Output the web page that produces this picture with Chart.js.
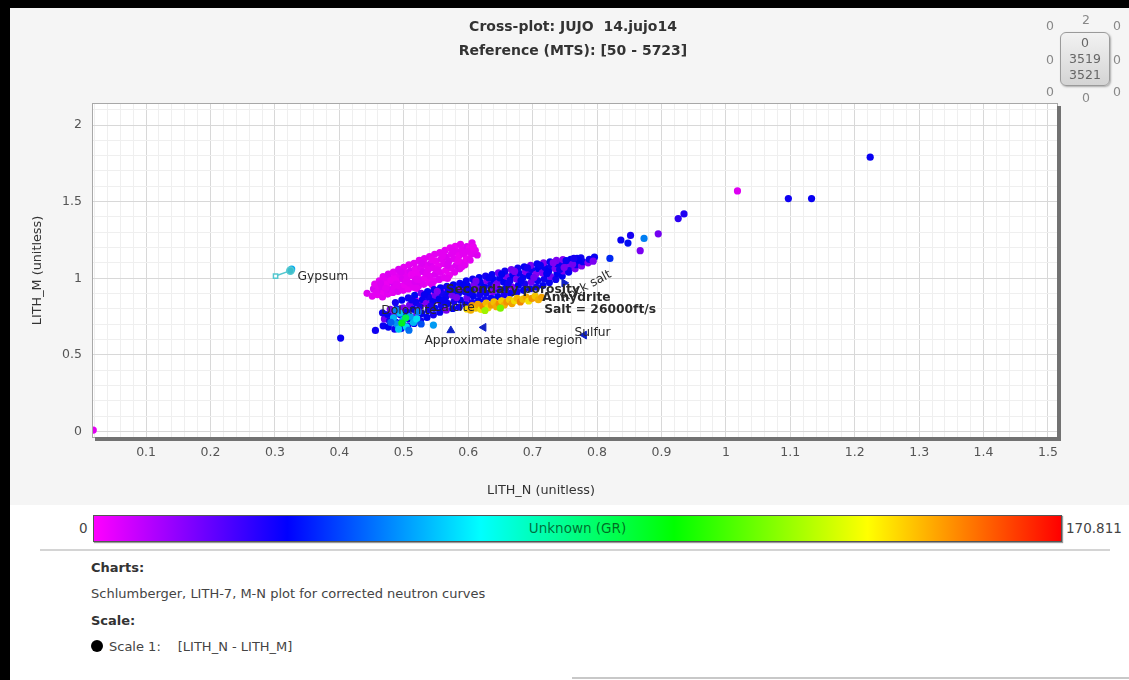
<!DOCTYPE html>
<html>
<head>
<meta charset="utf-8">
<title>Cross-plot JUJO 14</title>
<script src="https://cdn.jsdelivr.net/npm/chart.js@4.4.1/dist/chart.umd.min.js"></script>
<style>
  html, body { margin: 0; padding: 0; }
  body {
    width: 1129px; height: 680px; position: relative; overflow: hidden;
    background: #fff; font-family: "DejaVu Sans", Verdana, sans-serif; color: #333;
  }
  #panel { position: absolute; left: 0; top: 0; width: 1129px; height: 505px; background: #f5f5f5; }
  #topBar { position: absolute; left: 0; top: 0; width: 1129px; height: 8px; background: #000; }
  #leftBar { position: absolute; left: 0; top: 0; width: 10px; height: 680px; background: #000; }
  #plot { position: absolute; left: 0; top: 0; }
  .title { position: absolute; left: 0; width: 1146px; text-align: center; font-weight: bold; font-size: 14px; line-height: 16px; color: #333; }
  #xTitle { position: absolute; left: 0; width: 1082px; top: 482px; text-align: center; font-size: 12.8px; line-height: 16px; color: #333; }
  .num { position: absolute; font-size: 12.5px; color: #888; transform: translate(-50%, -50%); }
  #navBox {
    position: absolute; left: 1060px; top: 32px; width: 50px; height: 54px; box-sizing: border-box;
    border: 1px solid #9a9a9a; border-radius: 6px; background: linear-gradient(#f2f2f2, #d4d4d4);
    box-shadow: 1px 1px 2px #aaa; text-align: center; font-size: 12.5px; line-height: 16px; color: #666; padding-top: 2px;
  }
  #cbar {
    position: absolute; left: 93px; top: 515px; width: 969px; height: 27px; box-sizing: border-box;
    border: 1px solid #555; box-shadow: 1px 1px 1px #999;
    text-align: center; font-size: 13.5px; line-height: 25px; color: rgba(0, 60, 20, 0.75);
  }
  .cbLabel { position: absolute; top: 520px; font-size: 13.5px; line-height: 16px; color: #444; }
  #sep { position: absolute; left: 40px; top: 549px; width: 1070px; height: 2px; background: #d4d4d4; }
  #bottomLine { position: absolute; left: 572px; top: 677px; width: 557px; height: 2px; background: #c8c8c8; }
  .head { position: absolute; left: 91px; font-weight: bold; font-size: 13px; line-height: 16px; color: #333; }
  .body { position: absolute; left: 91px; font-size: 13px; line-height: 16px; color: #444; }
  #dot { display: inline-block; width: 12px; height: 12px; border-radius: 50%; background: #000; vertical-align: -1px; margin-right: 6px; }
</style>
</head>
<body>
<div id="panel"></div>
<canvas id="plot" width="1129" height="510"></canvas>
<div id="topBar"></div>
<div id="leftBar"></div>

<div class="title" style="top:18px">Cross-plot: JUJO&nbsp; 14.jujo14</div>
<div class="title" style="top:42px">Reference (MTS): [50 - 5723]</div>
<div id="xTitle">LITH_N (unitless)</div>

<span class="num" style="left:1086px;top:19px">2</span>
<span class="num" style="left:1050px;top:25px">0</span>
<span class="num" style="left:1117px;top:25px">0</span>
<span class="num" style="left:1050px;top:59px">0</span>
<span class="num" style="left:1117px;top:59px">0</span>
<span class="num" style="left:1050px;top:91px">0</span>
<span class="num" style="left:1086px;top:97px">0</span>
<span class="num" style="left:1117px;top:91px">0</span>
<div id="navBox">0<br>3519<br>3521</div>

<div id="cbar"></div>
<span class="cbLabel" id="cbMin" style="left:79px"></span>
<span class="cbLabel" id="cbMax" style="left:1066px"></span>
<div id="sep"></div>

<div class="head" style="top:560px">Charts:</div>
<div class="body" style="top:586px">Schlumberger, LITH-7, M-N plot for corrected neutron curves</div>
<div class="head" style="top:613px">Scale:</div>
<div class="body" style="top:639px"><span id="dot"></span>Scale 1:<span style="margin-left:17px">[LITH_N - LITH_M]</span></div>
<div id="bottomLine"></div>

<script>
// Ejes y escala de color (GR)
const xTickLabels = ['0.1', '0.2', '0.3', '0.4', '0.5', '0.6', '0.7', '0.8', '0.9', '1', '1.1', '1.2', '1.3', '1.4', '1.5'];
const yTickLabels = ['0', '0.5', '1', '1.5', '2'];
const xMin = 0.0176, xMax = 1.514;
const yMin = -0.035, yMax = 2.137;
const grMin = 0, grMax = 170.811;
const grName = 'Unknown (GR)';

// Puntos [LITH_N, LITH_M, GR]
const pinkPoints = [
  [0.443, 0.902, 3],
  [0.451, 0.884, 2], [0.453, 0.931, 4], [0.455, 0.962, 2],
  [0.459, 0.893, 1], [0.461, 0.921, 3], [0.460, 0.951, 2], [0.462, 0.983, 2],
  [0.467, 0.878, 2], [0.469, 0.912, 1], [0.466, 0.946, 3], [0.470, 0.987, 2], [0.468, 1.012, 2],
  [0.475, 0.897, 2], [0.477, 0.928, 3], [0.474, 0.962, 1], [0.478, 0.998, 2], [0.476, 1.027, 3],
  [0.483, 0.908, 2], [0.485, 0.944, 2], [0.482, 0.976, 4], [0.486, 1.012, 1], [0.484, 1.041, 2],
  [0.491, 0.915, 3], [0.493, 0.951, 2], [0.490, 0.989, 1], [0.494, 1.024, 2], [0.492, 1.058, 3],
  [0.499, 0.922, 2], [0.501, 0.958, 1], [0.498, 0.997, 3], [0.502, 1.036, 2], [0.500, 1.071, 2],
  [0.507, 0.931, 1], [0.509, 0.968, 2], [0.506, 1.008, 2], [0.510, 1.047, 3], [0.508, 1.088, 2],
  [0.515, 0.941, 2], [0.517, 0.979, 3], [0.514, 1.019, 2], [0.518, 1.061, 1], [0.516, 1.098, 2],
  [0.523, 0.952, 3], [0.525, 0.991, 2], [0.522, 1.031, 1], [0.526, 1.072, 2], [0.524, 1.117, 2],
  [0.531, 0.961, 2], [0.533, 1.002, 1], [0.530, 1.044, 3], [0.534, 1.088, 2], [0.532, 1.128, 2],
  [0.539, 0.973, 1], [0.541, 1.013, 2], [0.538, 1.058, 2], [0.542, 1.098, 3], [0.540, 1.141, 2],
  [0.547, 0.984, 2], [0.549, 1.027, 3], [0.546, 1.069, 2], [0.550, 1.112, 1], [0.548, 1.157, 2],
  [0.555, 0.993, 3], [0.557, 1.038, 2], [0.554, 1.081, 1], [0.558, 1.127, 2], [0.556, 1.168, 2],
  [0.563, 1.004, 2], [0.565, 1.051, 1], [0.562, 1.097, 2], [0.566, 1.139, 3], [0.564, 1.182, 2],
  [0.571, 1.021, 1], [0.573, 1.068, 2], [0.570, 1.112, 3], [0.574, 1.158, 2], [0.572, 1.198, 1],
  [0.579, 1.041, 2], [0.581, 1.083, 3], [0.578, 1.129, 2], [0.582, 1.171, 2], [0.580, 1.209, 1],
  [0.587, 1.062, 3], [0.589, 1.103, 2], [0.586, 1.148, 1], [0.590, 1.188, 2], [0.588, 1.221, 2],
  [0.595, 1.088, 2], [0.597, 1.128, 1], [0.594, 1.168, 2], [0.598, 1.207, 3],
  [0.603, 1.118, 2], [0.605, 1.158, 2], [0.602, 1.198, 1], [0.606, 1.232, 2],
  [0.614, 1.152, 3], [0.611, 1.183, 2],
  [0.518, 0.862, 4], [0.528, 0.834, 5], [0.543, 0.879, 3], [0.553, 0.858, 4], [0.535, 0.895, 3],
  [0.512, 0.818, 5], [0.548, 0.915, 3], [0.562, 0.935, 2],
  [0.457, 0.905, 2], [0.464, 0.965, 3], [0.472, 0.935, 2], [0.480, 0.987, 1], [0.488, 0.962, 2],
  [0.496, 1.041, 3], [0.504, 0.983, 2], [0.512, 1.025, 1], [0.520, 0.995, 2], [0.528, 1.098, 3],
  [0.536, 1.030, 2], [0.544, 1.121, 1], [0.552, 1.055, 2], [0.560, 1.148, 2], [0.568, 1.085, 3],
  [0.576, 1.185, 2], [0.584, 1.112, 1], [0.592, 1.162, 2], [0.600, 1.175, 2], [0.608, 1.205, 1],
  [0.520, 0.935, 2], [0.544, 0.960, 3], [0.568, 1.000, 2], [0.590, 1.075, 2]
];

const bandPoints = [
  [0.468, 0.690, 33], [0.470, 0.735, 18], [0.467, 0.775, 32],
  [0.476, 0.682, 34], [0.478, 0.722, 31], [0.475, 0.764, 35], [0.479, 0.798, 17],
  [0.486, 0.668, 32], [0.488, 0.712, 33], [0.485, 0.758, 19], [0.489, 0.801, 34], [0.487, 0.842, 31],
  [0.496, 0.672, 35], [0.498, 0.718, 32], [0.495, 0.762, 33], [0.499, 0.808, 16], [0.497, 0.858, 34],
  [0.506, 0.688, 31], [0.508, 0.735, 34], [0.505, 0.781, 33], [0.509, 0.826, 18], [0.507, 0.872, 32],
  [0.516, 0.706, 33], [0.518, 0.752, 17], [0.515, 0.798, 34], [0.519, 0.843, 32], [0.517, 0.889, 35],
  [0.526, 0.724, 32], [0.528, 0.771, 34], [0.525, 0.816, 31], [0.529, 0.861, 33], [0.527, 0.902, 19],
  [0.536, 0.745, 34], [0.538, 0.791, 33], [0.535, 0.836, 16], [0.539, 0.877, 32], [0.537, 0.914, 35],
  [0.546, 0.762, 31], [0.548, 0.806, 35], [0.545, 0.851, 33], [0.549, 0.889, 18], [0.547, 0.926, 32],
  [0.556, 0.779, 33], [0.558, 0.822, 32], [0.555, 0.864, 34], [0.559, 0.902, 31], [0.557, 0.938, 33],
  [0.566, 0.792, 17], [0.568, 0.836, 33], [0.565, 0.877, 32], [0.569, 0.913, 35], [0.567, 0.947, 32],
  [0.576, 0.803, 34], [0.578, 0.848, 31], [0.575, 0.889, 18], [0.579, 0.926, 33], [0.577, 0.958, 34],
  [0.586, 0.812, 32], [0.588, 0.858, 34], [0.585, 0.901, 33], [0.589, 0.936, 16], [0.587, 0.968, 32],
  [0.596, 0.832, 33], [0.598, 0.872, 19], [0.595, 0.913, 32], [0.599, 0.951, 34], [0.597, 0.984, 33],
  [0.606, 0.842, 31], [0.608, 0.884, 34], [0.605, 0.924, 33], [0.609, 0.962, 17], [0.607, 0.995, 32],
  [0.616, 0.853, 34], [0.618, 0.893, 32], [0.615, 0.935, 18], [0.619, 0.973, 33], [0.617, 1.004, 34],
  [0.626, 0.862, 32], [0.628, 0.904, 33], [0.625, 0.944, 34], [0.629, 0.984, 16], [0.627, 1.015, 31],
  [0.636, 0.871, 33], [0.638, 0.913, 17], [0.635, 0.955, 32], [0.639, 0.994, 34], [0.637, 1.025, 33],
  [0.646, 0.881, 34], [0.648, 0.924, 32], [0.645, 0.965, 18], [0.649, 1.003, 33], [0.647, 1.036, 19],
  [0.656, 0.892, 31], [0.658, 0.934, 33], [0.655, 0.976, 34], [0.659, 1.014, 17], [0.657, 1.047, 32],
  [0.666, 0.903, 33], [0.668, 0.945, 16], [0.665, 0.986, 32], [0.669, 1.024, 34], [0.667, 1.057, 18],
  [0.676, 0.912, 32], [0.678, 0.955, 34], [0.675, 0.996, 17], [0.679, 1.034, 33], [0.677, 1.066, 31],
  [0.686, 0.922, 34], [0.688, 0.964, 31], [0.685, 1.006, 33], [0.689, 1.044, 16], [0.687, 1.075, 33],
  [0.696, 0.932, 33], [0.698, 0.975, 18], [0.695, 1.016, 34], [0.699, 1.055, 32], [0.697, 1.085, 17],
  [0.706, 0.942, 31], [0.708, 0.985, 33], [0.705, 1.026, 15], [0.709, 1.064, 34], [0.707, 1.094, 33],
  [0.716, 0.953, 34], [0.718, 0.995, 32], [0.715, 1.036, 17], [0.719, 1.072, 33], [0.717, 1.101, 16],
  [0.726, 0.972, 33], [0.728, 1.012, 18], [0.725, 1.048, 34], [0.729, 1.082, 32], [0.727, 1.108, 33],
  [0.736, 0.993, 32], [0.738, 1.031, 34], [0.735, 1.064, 16], [0.739, 1.094, 33], [0.737, 1.117, 17],
  [0.746, 1.015, 34], [0.748, 1.048, 17], [0.745, 1.078, 33], [0.749, 1.104, 31], [0.747, 1.122, 15],
  [0.756, 1.041, 33], [0.758, 1.069, 32], [0.755, 1.096, 16], [0.759, 1.124, 34],
  [0.766, 1.062, 17], [0.768, 1.089, 33], [0.765, 1.113, 32], [0.769, 1.131, 35],
  [0.776, 1.081, 16], [0.778, 1.108, 33], [0.775, 1.133, 32],
  [0.786, 1.101, 15], [0.788, 1.124, 32], [0.796, 1.138, 33], [0.794, 1.112, 17],
  [0.482, 0.735, 33], [0.492, 0.790, 17], [0.502, 0.752, 34], [0.512, 0.860, 32], [0.522, 0.788, 19],
  [0.532, 0.892, 33], [0.542, 0.818, 31], [0.552, 0.915, 16], [0.562, 0.858, 33], [0.572, 0.935, 32],
  [0.582, 0.875, 17], [0.592, 0.958, 34], [0.602, 0.905, 33], [0.612, 0.982, 18], [0.622, 0.925, 32],
  [0.632, 1.003, 33], [0.642, 0.948, 16], [0.652, 1.028, 34], [0.662, 0.965, 32], [0.672, 1.045, 17],
  [0.682, 0.985, 33], [0.692, 1.068, 31], [0.702, 1.005, 18], [0.712, 1.085, 33], [0.722, 1.030, 34],
  [0.732, 1.102, 16], [0.742, 1.058, 32], [0.752, 1.115, 33], [0.762, 1.092, 18], [0.772, 1.118, 34]
];

const orangePoints = [
  [0.598, 0.800, 140], [0.604, 0.792, 146], [0.606, 0.822, 150], [0.612, 0.805, 143], [0.615, 0.830, 148],
  [0.620, 0.797, 139], [0.623, 0.818, 152], [0.628, 0.838, 145], [0.631, 0.808, 141], [0.636, 0.826, 149],
  [0.640, 0.846, 144], [0.644, 0.815, 147], [0.648, 0.835, 151], [0.652, 0.853, 142], [0.656, 0.826, 146],
  [0.660, 0.845, 150], [0.664, 0.862, 143], [0.668, 0.835, 148], [0.672, 0.853, 140], [0.676, 0.870, 145],
  [0.681, 0.846, 152], [0.685, 0.864, 144], [0.690, 0.878, 147], [0.694, 0.852, 139], [0.699, 0.869, 150],
  [0.704, 0.884, 143], [0.709, 0.861, 146], [0.714, 0.876, 148], [0.626, 0.790, 125], [0.650, 0.805, 120]
];

const cyanPoints = [
  [0.484, 0.742, 60], [0.489, 0.703, 55], [0.494, 0.772, 62], [0.499, 0.728, 58], [0.504, 0.684, 65],
  [0.510, 0.752, 57], [0.515, 0.712, 60], [0.492, 0.668, 63], [0.522, 0.781, 52], [0.503, 0.742, 92],
  [0.497, 0.708, 98], [0.546, 0.695, 56], [0.488, 0.793, 52], [0.480, 0.712, 48], [0.508, 0.662, 50],
  [0.520, 0.735, 66], [0.527, 0.702, 45]
];

const outlierPoints = [
  [0.018, 0.01, 2], [0.402, 0.61, 33], [0.456, 0.66, 32], [0.326, 1.06, 58],
  [1.224, 1.79, 33], [1.018, 1.57, 3], [1.097, 1.52, 32], [1.133, 1.52, 33],
  [0.935, 1.42, 30], [0.926, 1.39, 28], [0.895, 1.29, 18], [0.873, 1.26, 52],
  [0.867, 1.18, 17], [0.852, 1.28, 31], [0.837, 1.25, 33], [0.848, 1.23, 36],
  [0.820, 1.13, 40], [0.764, 1.13, 31], [0.749, 1.07, 17]
];

// Superposición del ábaco Schlumberger LITH-7
const gypsumLine = [[0.301, 1.015], [0.324, 1.05]];
const arrowX = [0.624, 0.780, 0.749, 0.573];
const arrowY = [0.680, 0.630, 0.970, 0.660];
const overlayLabels = ['Gypsum', 'Dolomite', 'Calcite', 'Secondary porosity', 'Anhydrite', 'Rock salt',
  'Salt = 26000ft/s', 'Sulfur', 'Approximate shale region'];
const overlayX = [0.335, 0.465, 0.545, 0.565, 0.715, 0.745, 0.718, 0.765, 0.532];
const overlayY = [1.010, 0.790, 0.810, 0.925, 0.875, 0.860, 0.795, 0.645, 0.590];

// Estilos
const FONT = 'DejaVu Sans';
const arrowAngles = [270, 270, 90, 0];
const overlayBold = [false, false, false, true, true, false, true, false, false];
const overlayAngles = [0, 0, 0, 0, 0, -28, 0, 0, 0];
const grStops = [[0, [255, 0, 255]], [0.2, [0, 0, 255]], [0.4, [0, 255, 255]], [0.6, [0, 255, 0]], [0.8, [255, 255, 0]], [1, [255, 0, 0]]];

function grColor(gr) {
  const t = Math.min(1, Math.max(0, (gr - grMin) / (grMax - grMin)));
  for (let i = 1; i < grStops.length; i++) {
    if (t <= grStops[i][0]) {
      const [t0, c0] = grStops[i - 1];
      const [t1, c1] = grStops[i];
      const f = (t - t0) / (t1 - t0);
      const c = c0.map((v, k) => Math.round((v + (c1[k] - v) * f) * 0.95));
      return `rgb(${c.join(',')})`;
    }
  }
  return 'rgb(230,0,0)';
}

// Barra de color
document.getElementById('cbar').style.background =
  'linear-gradient(to right, ' + grStops.map(([t, c]) => `rgb(${c.join(',')}) ${t * 100}%`).join(', ') + ')';
document.getElementById('cbar').textContent = grName;
document.getElementById('cbMin').textContent = String(grMin);
document.getElementById('cbMax').textContent = String(grMax);

const toPoints = list => list.map(([x, y, gr]) => ({ x, y, gr }));

// Líneas de rejilla (mayores con etiqueta, menores sin ella)
function gridTicks(min, max, step) {
  const ticks = [];
  for (let i = Math.ceil(min / step); i * step <= max + 1e-9; i++) {
    ticks.push({ value: Math.round(i * step * 1000) / 1000 });
  }
  return ticks;
}
const xMajor = xTickLabels.map(Number);
const yMajor = yTickLabels.map(Number);
const findLabel = (values, labels, v) => {
  const i = values.findIndex(m => Math.abs(m - v) < 1e-6);
  return i >= 0 ? labels[i] : '';
};
const isMajor = (values, v) => values.some(m => Math.abs(m - v) < 1e-6);

const pointDataset = (label, list) => ({
  label,
  data: toPoints(list),
  backgroundColor: ctx => grColor(ctx.raw ? ctx.raw.gr : 0),
  borderWidth: 0,
  pointRadius: 3.6,
  pointHoverRadius: 3.6,
  clip: 0
});

const plotFrame = {
  id: 'plotFrame',
  beforeDraw(chart) {
    const { ctx, chartArea: a } = chart;
    ctx.save();
    ctx.fillStyle = '#ffffff';
    ctx.fillRect(a.left, a.top, a.right - a.left, a.bottom - a.top);
    ctx.restore();
  },
  afterDatasetsDraw(chart) {
    const { ctx, scales } = chart;
    ctx.save();
    ctx.textBaseline = 'middle';
    ctx.fillStyle = '#2a2a2a';
    overlayLabels.forEach((text, i) => {
      const px = scales.x.getPixelForValue(overlayX[i]);
      const py = scales.y.getPixelForValue(overlayY[i]);
      ctx.font = (overlayBold[i] ? 'bold ' : '') + '12.3px "' + FONT + '"';
      ctx.save();
      ctx.translate(px, py);
      ctx.rotate(overlayAngles[i] * Math.PI / 180);
      ctx.fillText(text, 0, 0);
      ctx.restore();
    });
    ctx.restore();
  },
  afterDraw(chart) {
    const { ctx, chartArea: a } = chart;
    ctx.save();
    ctx.strokeStyle = '#a8a8a8';
    ctx.lineWidth = 1;
    ctx.strokeRect(a.left - 0.5, a.top - 0.5, a.right - a.left + 1, a.bottom - a.top + 1);
    ctx.fillStyle = '#727272';
    ctx.fillRect(a.right, a.top + 2, 4, a.bottom - a.top + 2);
    ctx.fillRect(a.left + 2, a.bottom, a.right - a.left + 2, 4);
    ctx.restore();
  }
};

new Chart(document.getElementById('plot').getContext('2d'), {
  type: 'scatter',
  data: {
    datasets: [
      {
        label: 'Chart arrows',
        data: arrowX.map((x, i) => ({ x, y: arrowY[i] })),
        pointStyle: 'triangle',
        rotation: arrowAngles,
        backgroundColor: '#1020c8',
        borderColor: '#1020c8',
        borderWidth: 1,
        pointRadius: 4.5,
        clip: 0
      },
      {
        label: 'Gypsum',
        data: gypsumLine.map(([x, y]) => ({ x, y })),
        showLine: true,
        borderColor: '#55c8d0',
        borderWidth: 1.5,
        pointStyle: ['rect', 'circle'],
        pointRadius: [3, 3.6],
        backgroundColor: ['#ffffff', '#3cbfcc'],
        pointBorderColor: '#55c8d0',
        clip: 0
      },
      pointDataset('Outliers', outlierPoints),
      pointDataset('Cyan', cyanPoints),
      pointDataset('Orange', orangePoints),
      pointDataset('Band', bandPoints),
      pointDataset('Pink', pinkPoints)
    ]
  },
  options: {
    responsive: false,
    animation: false,
    devicePixelRatio: 1,
    layout: { padding: { top: 104, right: 72, bottom: 0, left: 0 } },
    plugins: {
      legend: { display: false },
      title: { display: false },
      tooltip: { enabled: false }
    },
    scales: {
      x: {
        type: 'linear',
        min: xMin,
        max: xMax,
        afterBuildTicks: s => { s.ticks = gridTicks(xMin, xMax, 0.02); },
        afterFit: s => { s.height = 73; },
        border: { display: false },
        grid: {
          drawTicks: false,
          color: c => isMajor(xMajor, c.tick.value) ? '#d8d8d8' : '#efefef'
        },
        ticks: {
          autoSkip: false,
          maxRotation: 0,
          padding: 8,
          color: '#555',
          font: { family: FONT, size: 12.5 },
          callback: v => findLabel(xMajor, xTickLabels, v)
        }
      },
      y: {
        type: 'linear',
        min: yMin,
        max: yMax,
        afterBuildTicks: s => { s.ticks = gridTicks(yMin, yMax, 0.1); },
        afterFit: s => { s.width = 93; },
        border: { display: false },
        grid: {
          drawTicks: false,
          color: c => isMajor(yMajor, c.tick.value) ? '#d8d8d8' : '#efefef'
        },
        ticks: {
          autoSkip: false,
          padding: 11,
          color: '#555',
          font: { family: FONT, size: 12.5 },
          callback: v => findLabel(yMajor, yTickLabels, v)
        },
        title: {
          display: true,
          text: 'LITH_M (unitless)',
          color: '#333',
          font: { family: FONT, size: 12.8 },
          padding: { top: 30, bottom: 0 }
        }
      }
    }
  },
  plugins: [plotFrame]
});
</script>
</body>
</html>
